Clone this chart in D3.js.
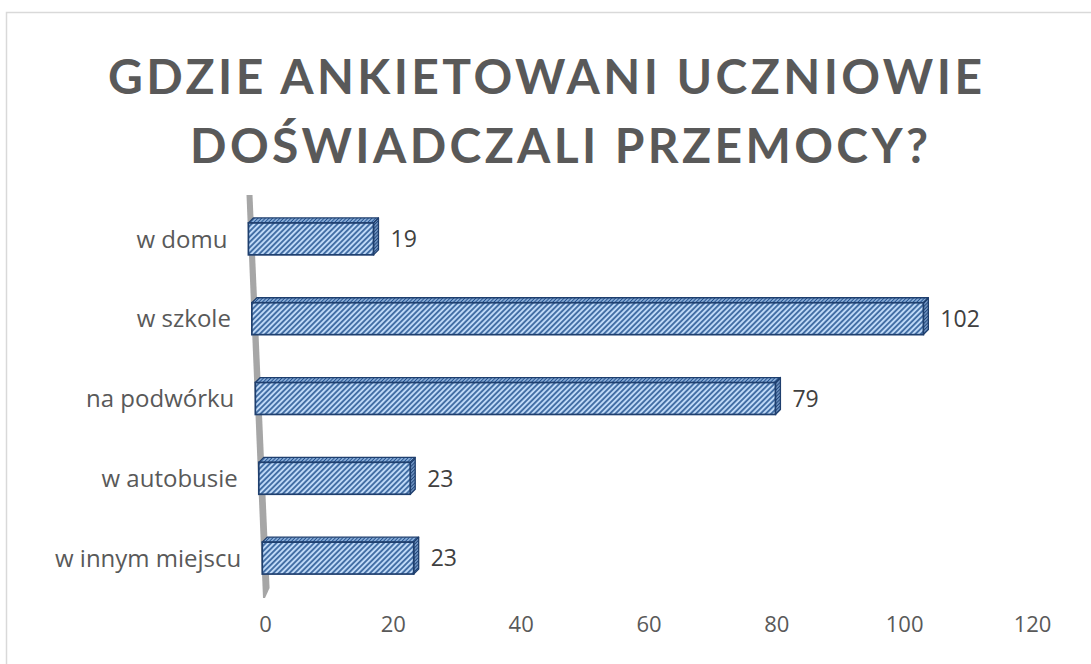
<!DOCTYPE html>
<html>
<head>
<meta charset="utf-8">
<script src="https://cdn.jsdelivr.net/npm/d3@7"></script>
<style>
  body { margin: 0; background: #fff; }
  svg text { font-family: "Open Sans", "Lato", sans-serif; }
</style>
</head>
<body>
<script>
// data
var categories = ["w domu", "w szkole", "na podwórku", "w autobusie", "w innym miejscu"];
var values = [19, 102, 79, 23, 23];
var tickValues = [0, 20, 40, 60, 80, 100, 120];
var titleLines = ["GDZIE ANKIETOWANI UCZNIOWIE", "DOŚWIADCZALI PRZEMOCY?"];

var width = 1091, height = 664;
var depth = 5;

var svg = d3.select("body")
            .append("svg")
            .attr("width", width)
            .attr("height", height);

// hatch patterns
var defs = svg.append("defs");

function hatch(id, bg, line, size, lw) {
  var p = defs.append("pattern")
              .attr("id", id)
              .attr("patternUnits", "userSpaceOnUse")
              .attr("width", size)
              .attr("height", size)
              .attr("patternTransform", "rotate(45)");
  p.append("rect").attr("width", size).attr("height", size).attr("fill", bg);
  p.append("line")
   .attr("x1", size / 2).attr("x2", size / 2)
   .attr("y1", 0).attr("y2", size)
   .attr("stroke", line).attr("stroke-width", lw);
}
hatch("hFront", "#bfd9f7", "#22528f", 3.8, 1.5);
hatch("hTop", "#9fbfe6", "#22528f", 2.6, 1.2);
hatch("hSide", "#86a9d6", "#1f4577", 2.4, 1.2);

// chart border
svg.append("rect")
   .attr("x", 6.5).attr("y", 12.5)
   .attr("width", width + 10).attr("height", height + 10)
   .attr("fill", "none")
   .attr("stroke", "#d9d9d9")
   .attr("stroke-width", 1.5);

// title
var title = svg.append("g")
               .style("font-size", "48px")
               .style("font-weight", "bold")
               .attr("fill", "#595959");
title.append("text")
     .attr("x", 108).attr("y", 94)
     .attr("textLength", 874)
     .attr("lengthAdjust", "spacing")
     .style("font-family", "Lato, sans-serif")
     .text(titleLines[0]);
title.append("text")
     .attr("x", 190).attr("y", 163)
     .attr("textLength", 738)
     .attr("lengthAdjust", "spacing")
     .style("font-family", "Lato, sans-serif")
     .text(titleLines[1]);

// scales
var yScale = d3.scaleBand()
               .domain(categories)
               .range([199, 598])
               .paddingInner(0.6)
               .paddingOuter(0.3);

// the slanted vertical axis (3D perspective)
var axisX = d3.scaleLinear()
              .domain([195, 598])
              .range([246.5, 264]);

// bar length in the front plane
var barScale = d3.scaleLinear()
                 .domain([0, 120])
                 .range([0, 790]);

// tick positions on the floor
var xScale = d3.scaleLinear()
               .domain([0, 120])
               .range([265, 1032]);

function pts(list) {
  return list.map(function(p) { return p.join(","); }).join(" ");
}

// gray axis wall
svg.append("polygon")
   .attr("points", pts([
     [axisX(195), 195], [axisX(195) + 6, 195],
     [axisX(588) + 6, 588], [axisX(598) + 1, 598], [axisX(598) - 1, 598]
   ]))
   .attr("fill", "#a6a6a6");

// bars
var bars = svg.selectAll(".bar")
              .data(categories)
              .enter()
              .append("g")
              .attr("class", "bar");

bars.each(function(d, i) {
  var g = d3.select(this);
  var y0 = yScale(d);
  var y1 = y0 + yScale.bandwidth();
  var x0 = axisX(y0 + yScale.bandwidth() / 2);
  var x1 = x0 + barScale(values[i]);

  // top face
  g.append("polygon")
   .attr("points", pts([[x0, y0], [x0 + depth, y0 - depth], [x1 + depth, y0 - depth], [x1, y0]]))
   .attr("fill", "url(#hTop)")
   .attr("stroke", "#1f3f6e")
   .attr("stroke-width", 1.3)
   .attr("stroke-linejoin", "round");

  // side face
  g.append("polygon")
   .attr("points", pts([[x1, y0], [x1 + depth, y0 - depth], [x1 + depth, y1 - depth], [x1, y1]]))
   .attr("fill", "url(#hSide)")
   .attr("stroke", "#1f3f6e")
   .attr("stroke-width", 1.3)
   .attr("stroke-linejoin", "round");

  // front face
  g.append("rect")
   .attr("x", x0).attr("y", y0)
   .attr("width", x1 - x0)
   .attr("height", y1 - y0)
   .attr("fill", "url(#hFront)")
   .attr("stroke", "#1f3f6e")
   .attr("stroke-width", 1.7);

  // value label
  g.append("text")
   .attr("x", x1 + depth + 12)
   .attr("y", y0 + yScale.bandwidth() / 2)
   .attr("dy", "0.36em")
   .attr("fill", "#404040")
   .style("font-size", "23px")
   .text(values[i]);

  // category label
  g.append("text")
   .attr("x", x0 - 21)
   .attr("y", y0 + yScale.bandwidth() / 2)
   .attr("dy", "0.36em")
   .attr("text-anchor", "end")
   .attr("fill", "#595959")
   .style("font-size", "24px")
   .text(d);
});

// x axis labels
var xAxis = d3.axisBottom(xScale)
              .tickValues(tickValues)
              .tickSize(0)
              .tickPadding(0);

var gx = svg.append("g")
            .attr("transform", "translate(0,616)")
            .call(xAxis);
gx.select(".domain").remove();
gx.selectAll("text")
  .attr("fill", "#595959")
  .style("font-size", "22px")
  .style("font-family", "Open Sans, sans-serif");
</script>
</body>
</html>
